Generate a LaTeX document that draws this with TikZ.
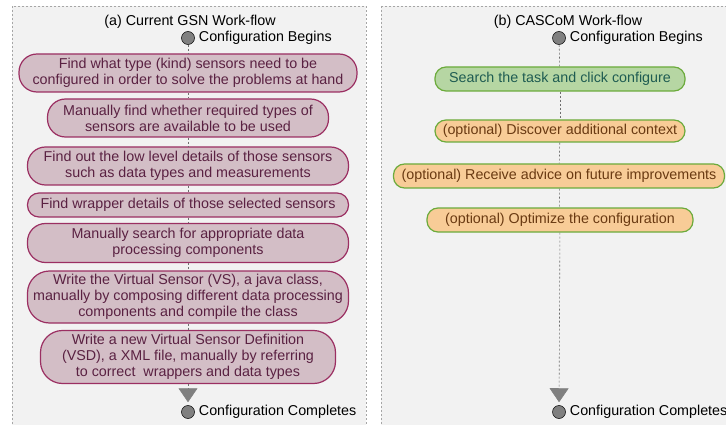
\documentclass[tikz,border=0pt]{standalone}
\usepackage{fontspec}
\setmainfont{Liberation Sans}
\usetikzlibrary{positioning,arrows.meta}

\definecolor{panelbg}{HTML}{F2F2F2}
\definecolor{panelline}{HTML}{A6A6A6}
\definecolor{flowline}{HTML}{6E6E6E}
\definecolor{dotgray}{HTML}{808080}
\definecolor{gsnfill}{HTML}{D3BEC6}
\definecolor{gsnline}{HTML}{9B2F62}
\definecolor{gsntext}{HTML}{5A2142}
\definecolor{casfill}{HTML}{B6D6A3}
\definecolor{castext}{HTML}{1F5C52}
\definecolor{optfill}{HTML}{F8CC97}
\definecolor{opttext}{HTML}{6A3A12}
\definecolor{casline}{HTML}{6CAB3C}

\begin{document}
\begin{tikzpicture}[x=1pt,y=-1pt,
  every node/.style={font=\fontsize{14.3}{16}\selectfont, inner sep=0pt},
  panel/.style={draw=panelline, fill=panelbg, dash pattern=on 2pt off 2pt, line width=0.8pt},
  statedot/.style={circle, draw=black, fill=dotgray, line width=0.5pt, minimum size=13pt},
  roundstep/.style={rectangle, rounded corners=#1, line width=1.2pt, align=center},
  gsnstep/.style={roundstep=#1, draw=gsnline, fill=gsnfill, text=gsntext},
  casstep/.style={roundstep=11pt, draw=casline, fill=casfill, text=castext},
  optstep/.style={roundstep=11pt, draw=casline, fill=optfill, text=opttext},
  flow/.style={draw=flowline, dash pattern=on 2pt off 2pt, line width=0.6pt},
  flowend/.style={flow, shorten >=3pt, -{Triangle[width=19pt,length=14pt,color=dotgray]}}]
  \useasboundingbox (0,0) rectangle (726,425);

  % panels
  \draw[panel] (12,6) rectangle (366,440);
  \draw[panel] (381,6) rectangle (760,440);

  % (a) current GSN work-flow
  \node (titleA) at (190,22) {(a) Current GSN Work-flow};
  \node[statedot] (startA) at (188,38) {};
  \node[right=4pt of startA] (startAlbl) {Configuration Begins};
  \node[gsnstep=18pt, minimum width=338pt, minimum height=38pt] (a1) at (188,73)
    {Find what type (kind) sensors need to be\\configured in order to solve the problems at hand};
  \node[gsnstep=18pt, minimum width=281pt, minimum height=38pt] (a2) at (188,118)
    {Manually find whether required types of\\sensors are available to be used};
  \node[gsnstep=18pt, minimum width=321pt, minimum height=38pt] (a3) at (188,166)
    {Find out the low level details of those sensors\\such as data types and measurements};
  \node[gsnstep=11.5pt, minimum width=321pt, minimum height=24pt] (a4) at (188,205)
    {Find wrapper details of those selected sensors};
  \node[gsnstep=18pt, minimum width=321pt, minimum height=39pt] (a5) at (188,243)
    {Manually search for appropriate data\\processing components};
  \node[gsnstep=22pt, minimum width=321pt, minimum height=52pt] (a6) at (188,297)
    {Write the Virtual Sensor (VS), a java class,\\manually by composing different data processing\\components and compile the class};
  \node[gsnstep=22pt, minimum width=295pt, minimum height=53pt] (a7) at (188,357)
    {Write a new Virtual Sensor Definition\\(VSD), a XML file, manually by referring\\to correct\ \ wrappers and data types};
  \node[statedot] (endA) at (188,412) {};
  \node[right=4pt of endA] (endAlbl) {Configuration Completes};

  \draw[flow] (startA) -- (a1);
  \draw[flow] (a1) -- (a2);
  \draw[flow] (a2) -- (a3);
  \draw[flow] (a3) -- (a4);
  \draw[flow] (a4) -- (a5);
  \draw[flow] (a5) -- (a6);
  \draw[flow] (a6) -- (a7);
  \draw[flowend] (a7) -- (endA);

  % (b) CASCoM work-flow
  \node (titleB) at (568,22) {(b) CASCoM Work-flow};
  \node[statedot] (startB) at (559,38) {};
  \node[right=4pt of startB] (startBlbl) {Configuration Begins};
  \node[casstep, minimum width=250pt, minimum height=24pt] (b1) at (560,79)
    {Search the task and click configure};
  \node[optstep, minimum width=250pt, minimum height=22pt] (b2) at (560,131)
    {(optional) Discover additional context};
  \node[optstep, minimum width=331pt, minimum height=24pt] (b3) at (559,176)
    {(optional) Receive advice on future improvements};
  \node[optstep, minimum width=266pt, minimum height=24pt] (b4) at (560,220)
    {(optional) Optimize the configuration};
  \node[statedot] (endB) at (559,412) {};
  \node[right=4pt of endB] (endBlbl) {Configuration Completes};

  \draw[flow] (startB) -- (b1);
  \draw[flow] (b1) -- (b2);
  \draw[flow] (b2) -- (b3);
  \draw[flow] (b3) -- (b4);
  \draw[flowend] (b4) -- (endB);
\end{tikzpicture}
\end{document}
